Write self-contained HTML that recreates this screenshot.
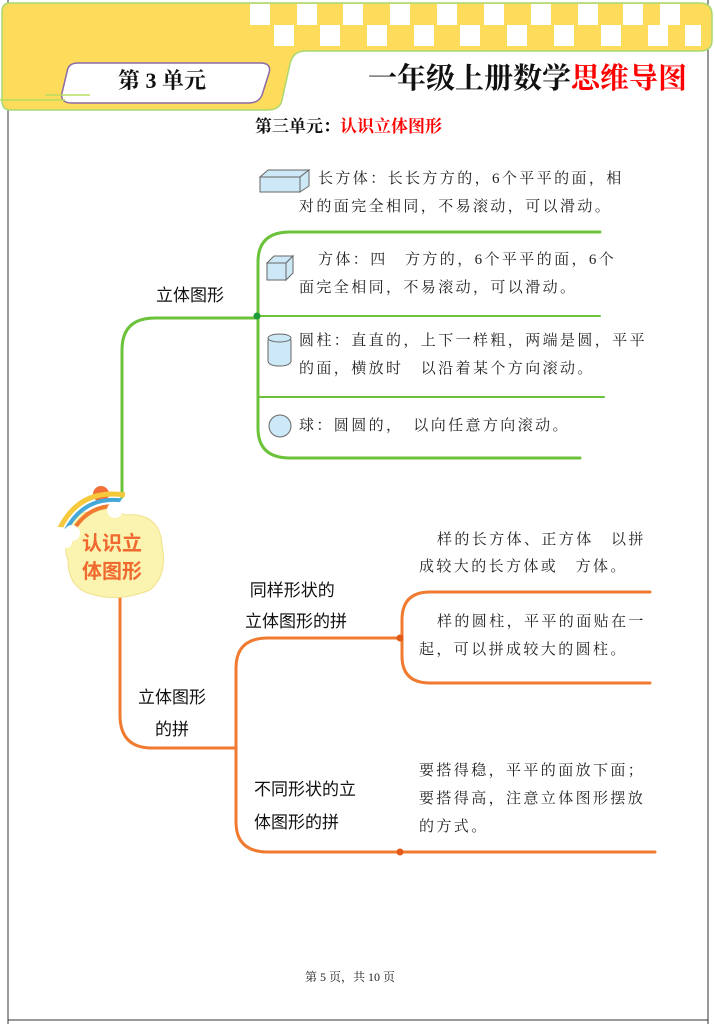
<!DOCTYPE html>
<html><head><meta charset="utf-8"><style>
body{margin:0;width:715px;height:1024px;background:#fff;overflow:hidden;position:relative;font-family:"Liberation Serif","Noto Serif CJK SC",serif}
.t{position:absolute;font-size:15px;color:#222;letter-spacing:2.4px;line-height:27px;white-space:nowrap;font-family:"Liberation Serif","Noto Serif CJK SC","Noto Sans CJK SC",serif}
.h{position:absolute;font-family:"Liberation Sans","Noto Sans CJK SC",sans-serif;font-size:17px;color:#111;line-height:30px;white-space:nowrap}
</style></head><body>
<svg width="715" height="1024" style="position:absolute;left:0;top:0">
<line x1="8" y1="0" x2="8" y2="1024" stroke="#333" stroke-width="1"/>
<line x1="708" y1="0" x2="708" y2="1024" stroke="#333" stroke-width="1"/>
<line x1="8" y1="1020" x2="708" y2="1020" stroke="#333" stroke-width="1"/>
<path d="M10,3 H700 Q712,3 712,15 V40 Q712,51 700,51 H305 Q293,51 290,64 L282,100 Q280,110 268,110 H10 Q2,110 2,100 V12 Q2,3 10,3Z" fill="#fcdc5a" stroke="#a8d870" stroke-width="1.5"/>
<g fill="#fff">
<rect x="250" y="4" width="20" height="21"/><rect x="297" y="4" width="20" height="21"/><rect x="343" y="4" width="20" height="21"/><rect x="390" y="4" width="20" height="21"/><rect x="437" y="4" width="20" height="21"/><rect x="484" y="4" width="20" height="21"/><rect x="531" y="4" width="20" height="21"/><rect x="578" y="4" width="20" height="21"/><rect x="623" y="4" width="20" height="21"/><rect x="660" y="4" width="20" height="21"/>
<rect x="274" y="25" width="20" height="21"/><rect x="320" y="25" width="20" height="21"/><rect x="367" y="25" width="20" height="21"/><rect x="414" y="25" width="20" height="21"/><rect x="460" y="25" width="20" height="21"/><rect x="507" y="25" width="20" height="21"/><rect x="554" y="25" width="20" height="21"/><rect x="601" y="25" width="20" height="21"/><rect x="648" y="25" width="20" height="21"/><rect x="685" y="25" width="16" height="21"/>
</g>
<path d="M78,63 H260 Q272,63 269,73 L262,95 Q259,103 248,103 H72 Q60,103 62,93 L67,72 Q68,63 78,63Z" fill="#fff" stroke="#8c6aa8" stroke-width="1.5"/>
<line x1="45" y1="95" x2="90" y2="95" stroke="#b8dc60" stroke-width="1.5"/>
<line x1="0" y1="100" x2="65" y2="100" stroke="#b8dc60" stroke-width="1.5"/>
<!-- green tree -->
<g fill="none" stroke="#6cc23a" stroke-width="3" stroke-linecap="round">
<path d="M122,500 V350 Q122,318 155,318 H256"/>
<path d="M600,232 H290 Q258,232 258,262 V428 Q258,458 290,458 H580"/>
<path d="M258,316 H600" stroke-width="2"/>
<path d="M258,397 H604" stroke-width="2"/>
</g>
<circle cx="257" cy="316" r="3.5" fill="#1f9a3a"/>
<!-- orange tree -->
<g fill="none" stroke="#f07a30" stroke-width="3" stroke-linecap="round">
<path d="M120,598 V715 Q120,748 152,748 H236"/>
<path d="M400,638 H268 Q236,638 236,668 V822 Q236,852 268,852 H655"/>
<path d="M650,592 H430 Q402,592 402,620 V656 Q402,683 430,683 H650"/>
</g>
<circle cx="400" cy="638" r="3.5" fill="#e25a1a"/>
<circle cx="400" cy="852" r="3.5" fill="#e25a1a"/>
<!-- center node -->
<path d="M72,530 Q70,510 95,512 Q110,505 125,515 Q160,512 162,545 Q168,575 150,590 Q120,602 95,595 Q68,590 68,560 Q62,545 72,530Z" fill="#fbf3b0" stroke="#f0e08a"/>
<circle cx="101" cy="494" r="8" fill="#f07038"/>
<path d="M60,528 Q80,488 125,495" fill="none" stroke="#f6c93c" stroke-width="5"/>
<path d="M65,532 Q84,494 126,501" fill="none" stroke="#44a8d8" stroke-width="4"/>
<path d="M70,536 Q88,500 127,507" fill="none" stroke="#f07a30" stroke-width="4"/>
<circle cx="60" cy="535" r="8" fill="#fff"/><circle cx="72" cy="533" r="8" fill="#fff"/><circle cx="66" cy="542" r="6" fill="#fff"/>
<circle cx="115" cy="510" r="8" fill="#fff"/><circle cx="128" cy="504" r="8" fill="#fff"/><circle cx="137" cy="503" r="6" fill="#fff"/>
<!-- icons -->
<g fill="#cde8f6" stroke="#666" stroke-width="1">
<path d="M260,177 H300 V192 H260Z"/><path d="M260,177 L268,170 H309 L300,177Z"/><path d="M300,177 L309,170 V186 L300,192Z"/>
<path d="M267,263 H286 V280 H267Z"/><path d="M267,263 L274,256 H293 L286,263Z"/><path d="M286,263 L293,256 V273 L286,280Z"/>
<rect x="268" y="336" width="23" height="30" rx="10" ry="5"/><ellipse cx="279.5" cy="338" rx="11.5" ry="4"/>
<circle cx="280" cy="426" r="11"/>
</g>
</svg>
<div class="h" style="left:118px;top:66px;font-size:22px;font-weight:bold;font-family:'Liberation Serif','Noto Serif CJK SC',serif">第 3 单元</div>
<div class="h" style="left:368px;top:64px;font-size:29px;font-weight:bold;font-family:'Liberation Serif','Noto Serif CJK SC',serif;letter-spacing:0px">一年级上册数学<span style="color:#f00">思维导图</span></div>
<div class="h" style="left:255px;top:112px;font-size:17px;font-weight:bold;font-family:'Liberation Serif','Noto Serif CJK SC',serif">第三单元：<span style="color:#f00">认识立体图形</span></div>
<div class="t" style="left:318px;top:166px">长方体：长长方方的，6个平平的面，相</div>
<div class="t" style="left:299px;top:194px">对的面完全相同，不易滚动，可以滑动。</div>
<div class="t" style="left:318px;top:247px">方体：四　方方的，6个平平的面，6个</div>
<div class="t" style="left:299px;top:275px">面完全相同，不易滚动，可以滑动。</div>
<div class="t" style="left:299px;top:328px">圆柱：直直的，上下一样粗，两端是圆，平平</div>
<div class="t" style="left:299px;top:356px">的面，横放时　以沿着某个方向滚动。</div>
<div class="t" style="left:299px;top:413px">球：圆圆的，　以向任意方向滚动。</div>
<div class="t" style="left:437px;top:527px">样的长方体、正方体　以拼</div>
<div class="t" style="left:419px;top:554px">成较大的长方体或　方体。</div>
<div class="t" style="left:437px;top:609px">样的圆柱，平平的面贴在一</div>
<div class="t" style="left:419px;top:637px">起，可以拼成较大的圆柱。</div>
<div class="t" style="left:419px;top:758px">要搭得稳，平平的面放下面；</div>
<div class="t" style="left:419px;top:786px">要搭得高，注意立体图形摆放</div>
<div class="t" style="left:419px;top:814px">的方式。</div>
<div class="h" style="left:156px;top:281px">立体图形</div>
<div class="h" style="left:82px;top:530px;font-size:20px;color:#f06a30;font-weight:bold;line-height:28px">认识立<br>体图形</div>
<div class="h" style="left:138px;top:682px;line-height:32px">立体图形<br>　的拼</div>
<div class="h" style="left:245px;top:575px;line-height:31px">&nbsp;同样形状的<br>立体图形的拼</div>
<div class="h" style="left:254px;top:773px;line-height:33px">不同形状的立<br>体图形的拼</div>
<div class="t" style="left:305px;top:964px;font-size:12px;letter-spacing:0">第 5 页，共 10 页</div>
</body></html>
